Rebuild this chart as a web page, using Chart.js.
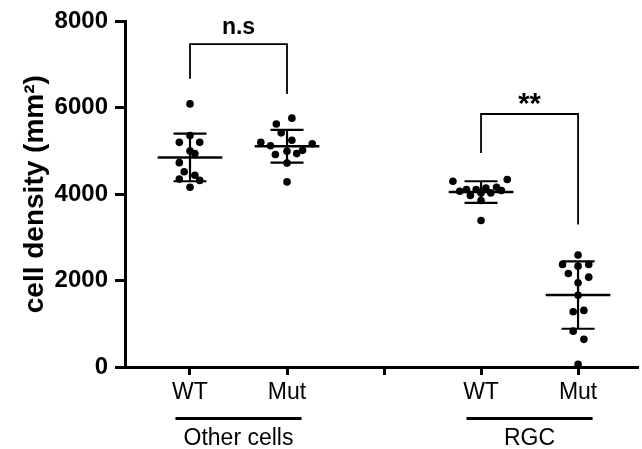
<!DOCTYPE html>
<html>
<head>
<meta charset="utf-8">
<script src="https://cdn.jsdelivr.net/npm/chart.js@4/dist/chart.umd.min.js"></script>
<style>
html,body{margin:0;padding:0;background:#fff;}
canvas{display:block;}
</style>
</head>
<body>
<canvas id="c" width="642" height="449"></canvas>
<script>
// ---- data ----
const tickLabels = ['WT', 'Mut', '', 'WT', 'Mut'];
const groupNames = ['Other cells', 'RGC'];
const groupMembers = [[0, 1], [3, 4]];

const otherWT    = [6090, 5360, 5200, 5200, 5000, 4940, 4730, 4520, 4440, 4350, 4320, 4160];
const otherWTdx  = [0, 0, -0.11, 0.10, 0, 0.05, -0.11, -0.06, 0.05, -0.11, 0.10, 0];
const otherMut   = [5760, 5625, 5420, 5250, 5200, 5165, 5120, 4995, 5015, 4920, 4940, 4720, 4285];
const otherMutdx = [0.05, -0.11, -0.06, 0.05, -0.27, 0.26, -0.17, 0, 0.16, -0.12, 0.10, 0, 0];
const rgcWT      = [4300, 4340, 4070, 4110, 3970, 4110, 4030, 4145, 4030, 4160, 4085, 3855, 3390];
const rgcWTdx    = [-0.29, 0.27, -0.22, -0.15, -0.11, -0.05, 0, 0.05, 0.10, 0.16, 0.21, 0, 0];
const rgcMut     = [2590, 2375, 2335, 2375, 2165, 2080, 1950, 1660, 1280, 1310, 830, 640, 60];
const rgcMutdx   = [0, -0.16, 0, 0.11, -0.10, 0.11, 0, 0, -0.05, 0.06, -0.05, 0.06, 0];

const groupValues = [otherWT, otherMut, null, rgcWT, rgcMut];
const groupJitter = [otherWTdx, otherMutdx, null, rgcWTdx, rgcMutdx];
const means = [4850, 5110, null, 4050, 1665];
const sds   = [550, 380, null, 250, 780];

// significance brackets
const bracketCats   = [[0, 1], [3, 4]];
const bracketTops   = [7475, 5857];
const bracketLeftY  = [6675, 4955];
const bracketRightY = [6319, 3299];
const bracketLabels = ['n.s', '**'];
const bracketLabelY = [7700, 5870];

// ---- build datasets ----
const FONT = '"Liberation Sans", Arial, Helvetica, sans-serif';
const datasets = [];
const lineDs = (pts, w) => ({
  type: 'line', data: pts, borderColor: '#000', borderWidth: w,
  pointRadius: 0, tension: 0, fill: false, clip: false, borderCapStyle: 'butt', borderJoinStyle: 'miter'
});

groupValues.forEach((vals, i) => {
  if (!vals) return;
  const m = means[i], s = sds[i];
  datasets.push(lineDs([{x: i - 0.333, y: m}, {x: i + 0.333, y: m}], 2.6));
  datasets.push(lineDs([{x: i, y: m - s}, {x: i, y: m + s}], 2.2));
  datasets.push(lineDs([{x: i - 0.17, y: m + s}, {x: i + 0.17, y: m + s}], 2.2));
  datasets.push(lineDs([{x: i - 0.17, y: m - s}, {x: i + 0.17, y: m - s}], 2.2));
  datasets.push({
    type: 'scatter',
    data: vals.map((v, k) => ({x: i + groupJitter[i][k], y: v})),
    backgroundColor: '#000', borderColor: '#000', pointRadius: 3.8, pointHoverRadius: 3.8,
    borderWidth: 0, clip: false
  });
});

bracketCats.forEach((c, b) => {
  datasets.push(lineDs([
    {x: c[0], y: bracketLeftY[b]}, {x: c[0], y: bracketTops[b]},
    {x: c[1], y: bracketTops[b]}, {x: c[1], y: bracketRightY[b]}
  ], 1.8));
});

const annotPlugin = {
  id: 'annot',
  afterDraw(chart) {
    const ctx = chart.ctx, xs = chart.scales.x, ys = chart.scales.y;
    ctx.save();
    ctx.fillStyle = '#000';
    ctx.textAlign = 'center';
    ctx.textBaseline = 'alphabetic';
    bracketCats.forEach((c, b) => {
      ctx.font = 'bold ' + (bracketLabels[b] === '**' ? 29 : 23) + 'px ' + FONT;
      ctx.fillText(bracketLabels[b], xs.getPixelForValue((c[0] + c[1]) / 2), ys.getPixelForValue(bracketLabelY[b]));
    });
    ctx.textBaseline = 'middle';
    const base = chart.chartArea.bottom;
    groupMembers.forEach((g, k) => {
      const cen = (g[0] + g[1]) / 2;
      const x1 = xs.getPixelForValue(cen - 0.65), x2 = xs.getPixelForValue(cen + 0.65);
      ctx.fillRect(x1, base + 50, x2 - x1, 3);
      ctx.font = '23px ' + FONT;
      ctx.fillText(groupNames[k], (x1 + x2) / 2, base + 72);
    });
    ctx.restore();
  }
};

new Chart(document.getElementById('c'), {
  type: 'scatter',
  data: {datasets},
  options: {
    responsive: false,
    animation: false,
    devicePixelRatio: 1,
    layout: {padding: {left: 14, top: 20, right: 1, bottom: 0}},
    plugins: {legend: {display: false}, tooltip: {enabled: false}},
    scales: {
      x: {
        type: 'linear', min: -0.67, max: 4.62,
        afterBuildTicks(scale) { scale.ticks = tickLabels.map((_, i) => ({value: i})); },
        afterFit(scale) { scale.height = 82; },
        border: {display: true, color: '#000', width: 3},
        grid: {display: true, drawOnChartArea: false, drawTicks: true, tickLength: 8, tickWidth: 3, tickColor: '#000'},
        ticks: {
          autoSkip: false, maxRotation: 0, padding: 4, color: '#000',
          font: {family: FONT, size: 23},
          callback: (v) => tickLabels[v] ?? ''
        }
      },
      y: {
        min: 0, max: 8000,
        afterFit(scale) { scale.width = 111; },
        border: {display: true, color: '#000', width: 3},
        grid: {display: true, drawOnChartArea: false, drawTicks: true, tickLength: 10, tickWidth: 3, tickColor: '#000'},
        ticks: {stepSize: 2000, padding: 7, color: '#000', font: {family: FONT, size: 24, weight: 'bold'},
                callback: (v) => String(v)},
        title: {display: true, text: 'cell density (mm²)', color: '#000', padding: {top: 4, bottom: 0},
                font: {family: FONT, size: 28, weight: 'bold'}}
      }
    }
  },
  plugins: [annotPlugin]
});
</script>
</body>
</html>
